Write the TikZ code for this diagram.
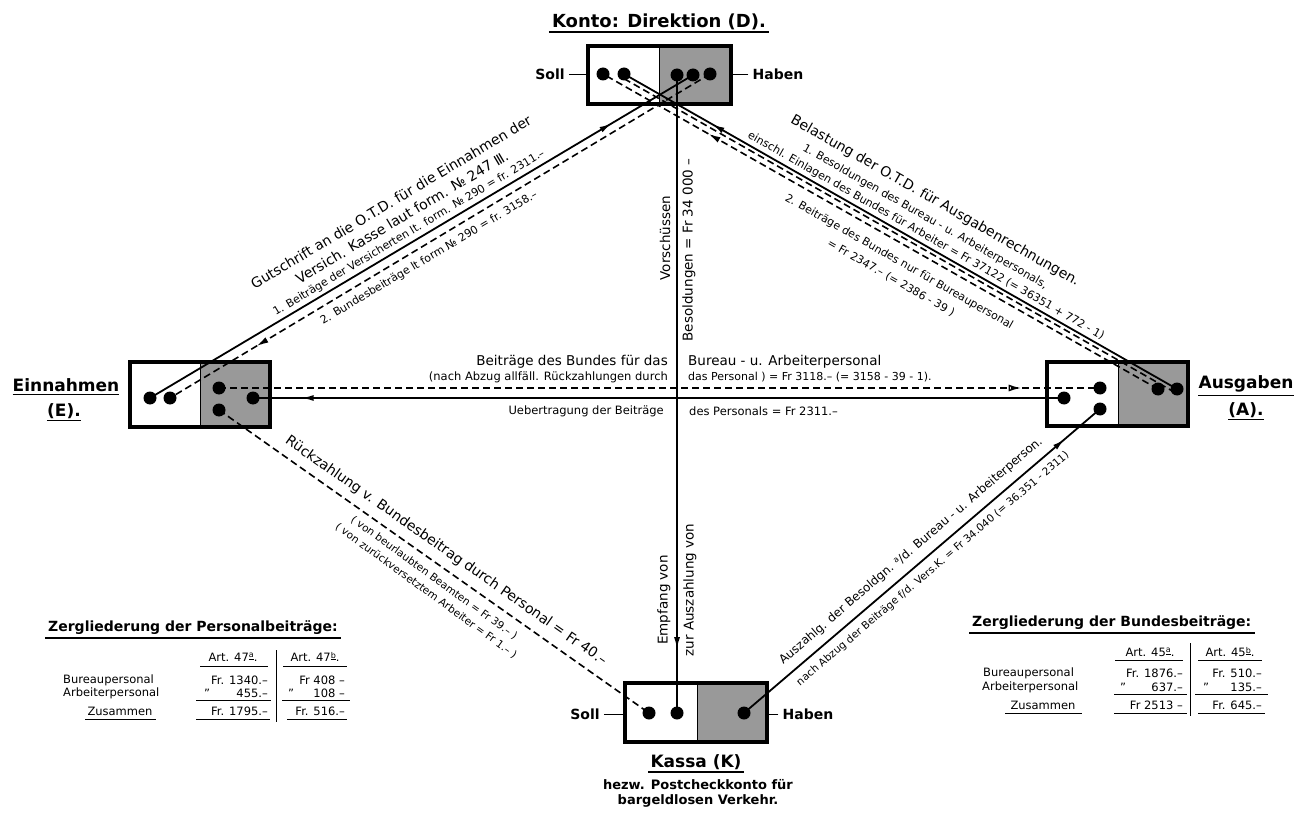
\documentclass[tikz,border=0pt]{standalone}
\usepackage{fontspec}
\setmainfont{DejaVu Sans}
\usetikzlibrary{arrows.meta,decorations.markings}
\newcommand\fsz[1]{\fontsize{#1}{#1}\selectfont}
\begin{document}
\begin{tikzpicture}[x=1pt,y=-1pt,
  t/.style={inner sep=0pt},
  sol/.style={line width=1.8pt},
  dsh/.style={line width=1.6pt, dash pattern=on 7pt off 4pt},
  acct/.style={draw, line width=3.5pt, inner sep=0pt},
  shd/.style={fill=black!40},
  tick/.style={line width=0.8pt},
  ul/.style={line width=2pt},
  thinrule/.style={line width=1pt},
  arr/.style={postaction={decorate}, decoration={markings, mark=at position #1 with {\arrow{Latex[length=12pt,width=6pt]}}}},
  oarr/.style={postaction={decorate}, decoration={markings, mark=at position #1 with {\arrow{Latex[open,length=12pt,width=7pt,line width=1.3pt]}}}},
  big/.style={t, font=\fsz{17}\bfseries},
  mid/.style={t, font=\fsz{14}},
  sml/.style={t, font=\fsz{11}},
  tab/.style={t, font=\fsz{11.5}}
]
\fill[white] (0,0) rectangle (1299,813);
\useasboundingbox (0,0) rectangle (1299,813);

% ---------- account boxes ----------
\fill[shd] (659,46) rectangle (731,104);
\node[acct, minimum width=143pt, minimum height=58pt] (Dbox) at (659.5,75) {};
\draw[tick] (659,46) -- (659,104);

\fill[shd] (200,362) rectangle (270,427);
\node[acct, minimum width=140pt, minimum height=65pt] (Ebox) at (200,394.5) {};
\draw[tick] (200,362) -- (200,427);

\fill[shd] (1118,362) rectangle (1188,426);
\node[acct, minimum width=141pt, minimum height=64pt] (Abox) at (1117.5,394) {};
\draw[tick] (1118,362) -- (1118,426);

\fill[shd] (697,683) rectangle (767,742);
\node[acct, minimum width=142pt, minimum height=59pt] (Kbox) at (696,712.5) {};
\draw[tick] (697,683) -- (697,742);

% ---------- connection points ----------
\coordinate (d1) at (603,74); \coordinate (d2) at (624,74);
\coordinate (d3) at (677,75); \coordinate (d4) at (693,75); \coordinate (d5) at (710,74);
\coordinate (e1) at (150,398); \coordinate (e2) at (170,398);
\coordinate (e3) at (219,388); \coordinate (e4) at (219,410); \coordinate (e5) at (253,398);
\coordinate (a1) at (1064,398); \coordinate (a2) at (1100,388); \coordinate (a3) at (1100,409);
\coordinate (a4) at (1158,389); \coordinate (a5) at (1177,389);
\coordinate (k1) at (649,713); \coordinate (k2) at (677,713); \coordinate (k3) at (744,713);

% ---------- connectors ----------
\draw[sol, arr=0.85] (e1) -- (d4);
\draw[dsh, arr=0.84] (d5) -- (e2);
\draw[sol, arr=0.84] (a5) -- (d2);
\draw[dsh] ([shift={(-2,3.5)}]a5) -- ([shift={(-2,3.5)}]d2);
\draw[dsh, arr=0.81] (a4) -- (d1);
\draw[sol, arr=0.94] (a1) -- (e5);
\draw[dsh, oarr=0.91] (e3) -- (a2);
\draw[sol, arr=0.9] (d3) -- (k2);
\draw[sol, arr=0.9] (k3) -- (a3);
\draw[dsh] (e4) -- (k1);

\foreach \c in {d1,d2,d3,d4,d5,e1,e2,e3,e4,e5,a1,a2,a3,a4,a5,k1,k2,k3}
  \fill (\c) circle (6.5);

% ---------- box titles ----------
\node[big, font=\fsz{18}\bfseries] (Dtitle) at (659,22) {Konto: Direktion (D).};
\draw[ul] ([shift={(-3,2)}]Dtitle.south west) -- ([shift={(3,2)}]Dtitle.south east);
\node[t, font=\fsz{14}\bfseries] (Dsoll) at (550,74) {Soll};
\draw[tick] ([shift={(4,0)}]Dsoll.east) -- (Dbox.west |- Dsoll.east);
\node[t, font=\fsz{14}\bfseries] (Dhaben) at (778,74) {Haben};
\draw[tick] ([shift={(-4,0)}]Dhaben.west) -- (Dbox.east |- Dhaben.west);

\node[big] (Etitle) at (66,385) {Einnahmen};
\draw[line width=1.4pt] ([shift={(0,3)}]Etitle.south west) -- ([shift={(0,3)}]Etitle.south east);
\node[big] (Elab) at (64,411) {(E).};
\draw[line width=1.4pt] ([shift={(0,2)}]Elab.south west) -- ([shift={(0,2)}]Elab.south east);

\node[big] (Atitle) at (1246,384) {Ausgaben};
\draw[line width=1.4pt] ([shift={(0,3)}]Atitle.south west) -- ([shift={(0,3)}]Atitle.south east);
\node[big] (Alab) at (1246,410) {(A).};
\draw[line width=1.4pt] ([shift={(0,2)}]Alab.south west) -- ([shift={(0,2)}]Alab.south east);

\node[t, font=\fsz{14}\bfseries] (Ksoll) at (585,714) {Soll};
\draw[tick] ([shift={(4,0)}]Ksoll.east) -- (Kbox.west |- Ksoll.east);
\node[t, font=\fsz{14}\bfseries] (Khaben) at (808,714) {Haben};
\draw[tick] ([shift={(-4,0)}]Khaben.west) -- (Kbox.east |- Khaben.west);
\node[big] (Ktitle) at (696,762) {Kassa (K)};
\draw[ul] ([shift={(-2,2)}]Ktitle.south west) -- ([shift={(2,2)}]Ktitle.south east);
\node[t, font=\fsz{13}\bfseries] (Ksub1) at (698,785) {hezw. Postcheckkonto für};
\node[t, font=\fsz{13}\bfseries] (Ksub2) at (698,801) {bargeldlosen Verkehr.};

% ---------- left diagonal labels ----------
\node[mid, rotate=30.8] (L1) at (391,202) {Gutschrift an die O.T.D. für die Einnahmen der};
\node[mid, rotate=30.8] (L2) at (402,217) {Versich. Kasse laut form. № 247 Ⅲ.};
\node[sml, rotate=30.8] (L3) at (409,233) {1. Beiträge der Versicherten lt. form. № 290 = fr. 2311.–};
\node[sml, rotate=30.8] (L4) at (429,258) {2. Bundesbeiträge lt form № 290 = fr. 3158.–};

% ---------- right diagonal labels ----------
\node[mid, rotate=-29.7] (R1) at (935,201) {Belastung der O.T.D. für Ausgabenrechnungen.};
\node[sml, rotate=-29.7] (R2) at (925,217) {1. Besoldungen des Bureau - u. Arbeiterpersonals,};
\node[sml, rotate=-29.7] (R3) at (926,236) {einschl. Einlagen des Bundes für Arbeiter = Fr 37122 (= 36351 + 772 - 1)};
\node[sml, rotate=-29.7] (R4) at (899,262) {2. Beiträge des Bundes nur für Bureaupersonal};
\node[sml, rotate=-29.7] (R5) at (891,278) {= Fr 2347.– (= 2386 - 39 )};

% ---------- horizontal labels ----------
\node[t, font=\fsz{13.5}, anchor=east] (H1) at (668,362) {Beiträge des Bundes für das};
\node[t, font=\fsz{13.5}, anchor=west] (H2) at (688,362) {Bureau - u. Arbeiterpersonal};
\node[sml, font=\fsz{11.5}, anchor=east] (H3) at (668,377) {(nach Abzug allfäll. Rückzahlungen durch};
\node[sml, anchor=west] (H4) at (688,377) {das Personal ) = Fr 3118.– (= 3158 - 39 - 1).};
\node[sml, font=\fsz{11.5}, anchor=east] (H5) at (664,411) {Uebertragung der Beiträge};
\node[sml, font=\fsz{11.5}, anchor=west] (H6) at (689,411) {des Personals = Fr 2311.–};

% ---------- vertical labels ----------
\node[t, font=\fsz{13.5}, rotate=90] (V1) at (665,238) {Vorschüssen};
\node[t, font=\fsz{13.5}, rotate=90] (V2) at (689,250) {Besoldungen = Fr 34 000 –};
\node[t, font=\fsz{13.5}, rotate=90] (V3) at (664,600) {Empfang von};
\node[t, font=\fsz{13.5}, rotate=90] (V4) at (690,590) {zur Auszahlung von};

% ---------- bottom-left labels ----------
\node[mid, rotate=-35] (B1) at (446,551) {Rückzahlung v. Bundesbeitrag durch Personal = Fr 40.–};
\node[sml, font=\fsz{10.5}, rotate=-36] (B2) at (434,578) {( von beurlaubten Beamten = Fr 39.– )};
\node[sml, font=\fsz{10.5}, rotate=-36] (B3) at (426,591) {( von zurückversetztem Arbeiter = Fr 1.– )};

% ---------- bottom-right labels ----------
\node[t, font=\fsz{12}, rotate=40.5] (C1) at (911,551) {Auszahlg. der Besoldgn. \raisebox{0.6ex}{\fsz{8}a}/d. Bureau - u. Arbeiterperson.};
\node[sml, font=\fsz{10.5}, rotate=40.5] (C2) at (933,569) {nach Abzug der Beiträge f/d. Vers.K. = Fr 34.040 (= 36.351 - 2311)};

% ---------- left table ----------
\node[t, font=\fsz{14}\bfseries, anchor=west] (PT) at (48,628) {Zergliederung der Personalbeiträge:};
\draw[ul] ([shift={(-3,3)}]PT.south west) -- ([shift={(3,3)}]PT.south east);
\node[tab] (P1h) at (233,657) {Art. 47\raisebox{0.6ex}{\fsz{8}\underline{a}}.};
\node[tab] (P2h) at (315,657) {Art. 47\raisebox{0.6ex}{\fsz{8}\underline{b}}.};
\draw[thinrule] (200,666) -- (268,666);
\draw[thinrule] (283,666) -- (347,666);
\draw[thinrule] (276,650) -- (276,722);
\node[tab, anchor=west] (Pr1) at (63,680) {Bureaupersonal};
\node[tab, anchor=west] (Pr2) at (63,693) {Arbeiterpersonal};
\node[tab] (Pr3) at (120,711) {Zusammen};
\draw[thinrule] (85,719) -- (156,719);
\node[tab, anchor=east] (Pa1) at (268,680) {Fr. 1340.–};
\node[tab, anchor=west] (Pa2q) at (204,693) {"};
\node[tab, anchor=east] (Pa2) at (268,693) {455.–};
\draw[thinrule] (196,700) -- (271,700);
\node[tab, anchor=east] (Pa3) at (268,711) {Fr. 1795.–};
\draw[thinrule] (196,719) -- (270,719);
\node[tab, anchor=east] (Pb1) at (345,680) {Fr 408 –};
\node[tab, anchor=west] (Pb2q) at (288,693) {"};
\node[tab, anchor=east] (Pb2) at (345,693) {108 –};
\draw[thinrule] (282,700) -- (350,700);
\node[tab, anchor=east] (Pb3) at (345,711) {Fr. 516.–};
\draw[thinrule] (287,719) -- (347,719);

% ---------- right table ----------
\node[t, font=\fsz{14}\bfseries, anchor=west] (BT) at (972,623) {Zergliederung der Bundesbeiträge:};
\draw[ul] ([shift={(-3,3)}]BT.south west) -- ([shift={(3,3)}]BT.south east);
\node[tab] (Q1h) at (1150,652) {Art. 45\raisebox{0.6ex}{\fsz{8}\underline{a}}.};
\node[tab] (Q2h) at (1230,652) {Art. 45\raisebox{0.6ex}{\fsz{8}\underline{b}}.};
\draw[thinrule] (1115,660) -- (1183,660);
\draw[thinrule] (1198,660) -- (1262,660);
\draw[thinrule] (1190,643) -- (1190,716);
\node[tab, anchor=west] (Qr1) at (983,673) {Bureaupersonal};
\node[tab, anchor=west] (Qr2) at (982,687) {Arbeiterpersonal};
\node[tab] (Qr3) at (1043,705) {Zusammen};
\draw[thinrule] (1005,713) -- (1082,713);
\node[tab, anchor=east] (Qa1) at (1183,673) {Fr. 1876.–};
\node[tab, anchor=west] (Qa2q) at (1120,687) {"};
\node[tab, anchor=east] (Qa2) at (1183,687) {637.–};
\draw[thinrule] (1114,694) -- (1187,694);
\node[tab, anchor=east] (Qa3) at (1183,705) {Fr 2513 –};
\draw[thinrule] (1114,713) -- (1187,713);
\node[tab, anchor=east] (Qb1) at (1262,673) {Fr. 510.–};
\node[tab, anchor=west] (Qb2q) at (1203,687) {"};
\node[tab, anchor=east] (Qb2) at (1262,687) {135.–};
\draw[thinrule] (1195,694) -- (1268,694);
\node[tab, anchor=east] (Qb3) at (1262,705) {Fr. 645.–};
\draw[thinrule] (1198,713) -- (1265,713);
\end{tikzpicture}
\end{document}
